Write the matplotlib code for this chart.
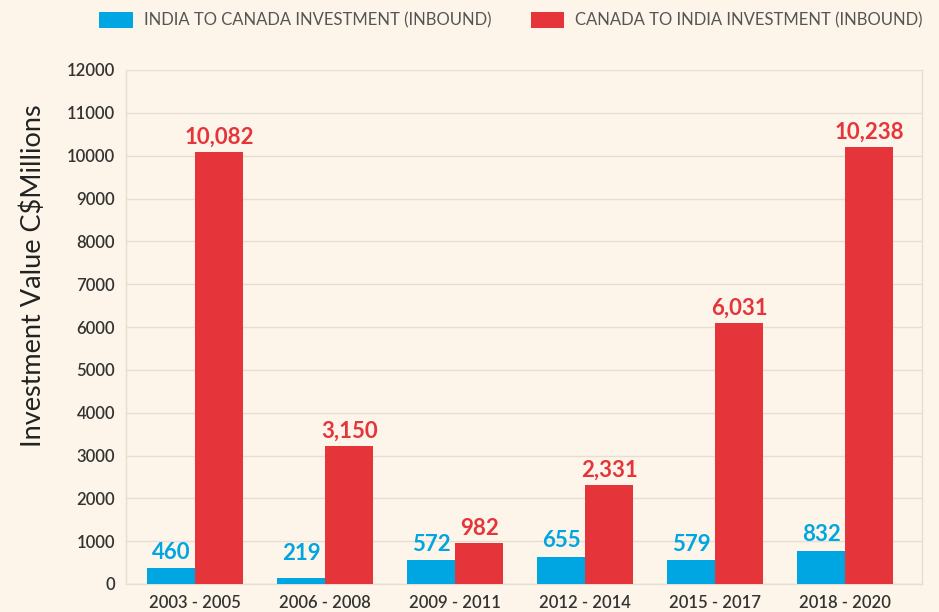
import matplotlib.pyplot as plt
import numpy as np

periods = ['2003 - 2005', '2006 - 2008', '2009 - 2011', '2012 - 2014', '2015 - 2017', '2018 - 2020']
# bar heights as drawn in the picture (C$ millions)
india_to_canada = [366, 148, 553, 638, 553, 770]
canada_to_india = [10093, 3233, 950, 2319, 6093, 10209]
# printed labels
india_labels = ['460', '219', '572', '655', '579', '832']
canada_labels = ['10,082', '3,150', '982', '2,331', '6,031', '10,238']

bg = '#fdf5e9'
blue = '#00a6e2'
red = '#e5343a'
grid = '#e6ded3'

plt.rcParams['font.family'] = ['Lato', 'DejaVu Sans']

fig = plt.figure(figsize=(9.39, 6.12), dpi=100, facecolor=bg)
ax = fig.add_axes([126 / 939, 1 - 584 / 612, 796 / 939, 514 / 612])
ax.set_facecolor(bg)

x = np.arange(len(periods))
w = 0.37
b1 = ax.bar(x - w / 2, india_to_canada, w, color=blue, label='INDIA TO CANADA INVESTMENT (INBOUND)', zorder=3)
b2 = ax.bar(x + w / 2, canada_to_india, w, color=red, label='CANADA TO INDIA INVESTMENT (INBOUND)', zorder=3)

for rect, txt in zip(b1, india_labels):
    y = max(rect.get_height(), 330)
    ax.annotate(txt, (rect.get_x() + rect.get_width() / 2, y), xytext=(0, 4),
                textcoords='offset points', ha='center', va='bottom',
                color=blue, fontsize=16, fontweight='bold')
for rect, txt in zip(b2, canada_labels):
    ax.annotate(txt, (rect.get_x() + rect.get_width() / 2, rect.get_height()), xytext=(0, 3),
                textcoords='offset points', ha='center', va='bottom',
                color=red, fontsize=16, fontweight='bold')

ax.set_xlim(-0.53, 5.59)
ax.set_ylim(0, 12000)
ax.set_yticks(range(0, 12001, 1000))
ax.set_xticks(x)
ax.set_xticklabels(periods)
ax.tick_params(length=0, labelsize=12, labelcolor='#333333', pad=8)
for lab in ax.get_xticklabels() + ax.get_yticklabels():
    lab.set_fontweight('semibold')
ax.yaxis.grid(True, color=grid, linewidth=1, zorder=0)
for s in ax.spines.values():
    s.set_color(grid)
    s.set_linewidth(1)
ax.spines['top'].set_visible(False)

ax.set_ylabel('Investment Value C$Millions', fontsize=19.5, color='#222222')
ax.yaxis.set_label_coords(-0.1, 0.6)

fig.legend(loc='upper center', bbox_to_anchor=(511 / 939, 1.005), ncol=2, frameon=False,
           fontsize=12, labelcolor='#555555', handlelength=2.0, handleheight=1.1,
           columnspacing=2.4, handletextpad=0.65)

fig.savefig('out.png', dpi=100, facecolor=bg)
